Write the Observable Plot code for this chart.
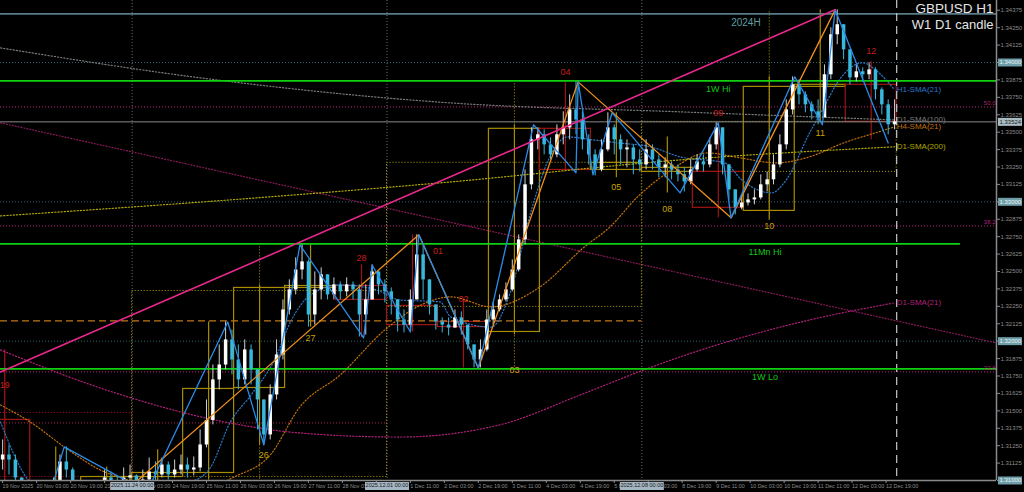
<!DOCTYPE html>
<html><head><meta charset="utf-8">
<script src="https://cdn.jsdelivr.net/npm/d3@7"></script>
<script src="https://cdn.jsdelivr.net/npm/@observablehq/plot@0.6"></script>
<style>html,body{margin:0;padding:0;background:#000;overflow:hidden}</style>
</head><body><div id="chart"></div>
<script>
// ---------- axes ----------
const xDomain = [-1, 468];
const yDomain = [1.31, 1.34445];
const yTicks = [1.31000,1.31125,1.31250,1.31375,1.31500,1.31625,1.31750,1.31875,1.32000,1.32125,1.32250,1.32375,1.32500,1.32625,1.32750,1.32875,1.33000,1.33125,1.33250,1.33375,1.33500,1.33625,1.33750,1.33875,1.34000,1.34125,1.34250,1.34375];
const xTickIdx = [0,16,32,48,64,80,96,112,128,144,160,176,192,208,224,240,256,272,288,304,320,336,352,368,384,400,416];
const xTickLabels = ["19 Nov 2025","20 Nov 03:00","20 Nov 19:00","21 Nov 11:00","24 Nov 03:00","24 Nov 19:00","25 Nov 11:00","26 Nov 03:00","26 Nov 19:00","27 Nov 11:00","28 Nov 03:00","","1 Dec 11:00","2 Dec 03:00","2 Dec 19:00","3 Dec 11:00","4 Dec 03:00","4 Dec 19:00","5 Dec 11:00","8 Dec 03:00","8 Dec 19:00","9 Dec 11:00","10 Dec 03:00","10 Dec 19:00","11 Dec 11:00","12 Dec 03:00","12 Dec 19:00"];
const weekSepIdx = [61, 181, 301];
const weekSepText = ["2025.11.24 00:00","2025.12.01 00:00","2025.12.08 00:00"];
const roundLevels = [1.34, 1.33, 1.32, 1.31];
const lastBarIdx = 421;
const lastPriceLine = 1.33574;
const lastPriceText = "1.33524";

// ---------- H1 price (one candle per 3 hours) ----------
const candleStep = 3;
const firstOpen = 1.31147;
const closes = [1.31183,1.31147,1.31018,1.30896,1.30860,1.30824,1.30789,1.30860,1.30967,1.31133,
 1.31075,1.30932,1.30860,1.30824,1.30860,1.30932,1.31018,1.30989,1.30975,1.31018,
 1.31033,1.30967,1.31004,1.31061,1.31040,1.31111,1.31040,1.31075,1.31111,1.31075,
 1.31090,1.31255,1.31431,1.31722,1.31829,1.32009,1.31865,1.31722,1.31937,1.31794,
 1.31578,1.31327,1.31614,1.31901,1.32224,1.32368,1.32511,1.32569,1.32188,1.32368,
 1.32476,1.32332,1.32404,1.32354,1.32404,1.32368,1.32188,1.32296,1.32497,1.32404,
 1.32354,1.32296,1.32152,1.32115,1.32296,1.32619,1.32440,1.32260,1.32138,1.32115,
 1.32094,1.32167,1.32115,1.31973,1.31865,1.31937,1.32152,1.32224,1.32296,1.32368,
 1.32511,1.32727,1.33122,1.33445,1.33481,1.33409,1.33337,1.33481,1.33531,1.33660,
 1.33588,1.33445,1.33337,1.33229,1.33373,1.33531,1.33445,1.33373,1.33387,1.33301,
 1.33265,1.33373,1.33301,1.33244,1.33265,1.33229,1.33194,1.33143,1.33229,1.33287,
 1.33265,1.33409,1.33531,1.33265,1.33086,1.32957,1.32992,1.33014,1.33028,1.33122,
 1.33158,1.33265,1.33409,1.33660,1.33840,1.33768,1.33696,1.33646,1.33603,1.33912,
 1.34199,1.34271,1.34091,1.33890,1.33933,1.33912,1.33947,1.33804,1.33696,1.33553,
 1.33574];
const highs = [1.31291,1.31255,1.31183,1.31004,1.30932,1.30896,1.30860,1.30917,1.31018,1.31183,
 1.31241,1.31090,1.30946,1.30896,1.30917,1.30967,1.31075,1.31061,1.31033,1.31090,
 1.31111,1.31040,1.31075,1.31161,1.31133,1.31161,1.31133,1.31147,1.31183,1.31161,
 1.31169,1.31363,1.31578,1.31829,1.31973,1.32138,1.32080,1.31973,1.32009,1.31973,
 1.31758,1.31578,1.31686,1.32009,1.32296,1.32440,1.32598,1.32691,1.32583,1.32497,
 1.32526,1.32440,1.32454,1.32425,1.32454,1.32425,1.32404,1.32404,1.32547,1.32497,
 1.32440,1.32382,1.32296,1.32224,1.32368,1.32763,1.32691,1.32368,1.32224,1.32167,
 1.32167,1.32224,1.32210,1.32080,1.31973,1.32009,1.32224,1.32282,1.32332,1.32418,
 1.32583,1.32763,1.33229,1.33531,1.33531,1.33517,1.33459,1.33553,1.33646,1.33768,
 1.33861,1.33646,1.33481,1.33373,1.33445,1.33639,1.33553,1.33481,1.33445,1.33409,
 1.33373,1.33445,1.33409,1.33337,1.33316,1.33287,1.33265,1.33244,1.33301,1.33337,
 1.33337,1.33459,1.33567,1.33531,1.33229,1.33086,1.33049,1.33057,1.33086,1.33194,
 1.33215,1.33337,1.33481,1.33732,1.33897,1.33876,1.33789,1.33718,1.33732,1.33983,
 1.34249,1.34378,1.34249,1.33962,1.33983,1.33962,1.33998,1.33962,1.33818,1.33732,
 1.33732];
const lows = [1.31075,1.31040,1.30967,1.30860,1.30824,1.30774,1.30753,1.30774,1.30860,1.30946,
 1.31018,1.30896,1.30824,1.30789,1.30803,1.30860,1.30917,1.30932,1.30917,1.30946,
 1.30967,1.30932,1.30932,1.30989,1.30989,1.31018,1.31004,1.31018,1.31040,1.31018,
 1.31033,1.31061,1.31234,1.31399,1.31650,1.31794,1.31758,1.31650,1.31686,1.31686,
 1.31363,1.31255,1.31291,1.31578,1.31865,1.32188,1.32332,1.32440,1.32101,1.32115,
 1.32296,1.32296,1.32296,1.32296,1.32318,1.32296,1.32030,1.32044,1.32296,1.32332,
 1.32274,1.32188,1.32066,1.32059,1.32066,1.32296,1.32296,1.32188,1.32080,1.32059,
 1.32038,1.32094,1.32044,1.31937,1.31808,1.31808,1.31923,1.32115,1.32210,1.32282,
 1.32354,1.32497,1.32691,1.33086,1.33373,1.33337,1.33301,1.33316,1.33409,1.33445,
 1.33481,1.33373,1.33265,1.33186,1.33215,1.33359,1.33337,1.33265,1.33244,1.33194,
 1.33215,1.33229,1.33229,1.33172,1.33172,1.33158,1.33143,1.33071,1.33122,1.33215,
 1.33215,1.33244,1.33373,1.33194,1.33014,1.32906,1.32942,1.32971,1.32978,1.33014,
 1.33071,1.33122,1.33244,1.33373,1.33624,1.33696,1.33639,1.33588,1.33553,1.33624,
 1.33876,1.34127,1.34019,1.33840,1.33861,1.33861,1.33876,1.33732,1.33624,1.33481,
 1.33517];

// ---------- D1 candles (boxes) ----------
const d1Start = [-11,13,37,61,85,109,133,157,181,205,229,253,277,301,325,349,373,397];
const d1Open  = [1.31435,1.30810,1.30860,1.31025,1.31054,1.31664,1.32382,1.32396,1.32253,1.32138,1.32066,1.33524,1.33229,1.33215,1.33215,1.32935,1.33825,1.33840];
const d1High  = [1.31937,1.31241,1.31097,1.31220,1.32138,1.32404,1.32691,1.32547,1.32763,1.32296,1.33553,1.33854,1.33639,1.33466,1.33567,1.33897,1.34378,1.34005];
const d1Low   = [1.30753,1.30753,1.30789,1.30917,1.31004,1.31255,1.32101,1.32023,1.32066,1.31808,1.32045,1.33215,1.33172,1.33064,1.32885,1.32870,1.33567,1.33445];
const d1Close = [1.30824,1.30860,1.31025,1.31054,1.31657,1.32382,1.32396,1.32296,1.32115,1.32101,1.33524,1.33229,1.33280,1.33244,1.32957,1.33825,1.33840,1.33574];
// day-number labels (empty = not shown on the chart)
const d1Label = ["19","","","","","26","27","28","01","02","03","04","05","08","09","10","11","12"];
const d1LabelIdx = [1,25,49,73,97,123,145,169,205,217,241,265,289,313,337,361,385,409];
const d1LabelPrice = [1.31686,1.30896,1.30896,1.30896,1.30917,1.31183,1.32023,1.32598,1.32648,1.32303,1.31794,1.33933,1.33107,1.32949,1.33639,1.32827,1.33495,1.34084];

// ---------- W1 candles (dotted boxes) ----------
const w1Start = [-59,61,181,301];
const w1End   = [61,181,301,421];
const w1Open  = [1.31485,1.31025,1.32246,1.33215];
const w1High  = [1.31937,1.32691,1.33861,1.34378];
const w1Low   = [1.30700,1.30753,1.31794,1.32870];
const w1Close = [1.31025,1.32360,1.33280,1.33574];

// ---------- zigzags & trend line ----------
const zzBlueIdx   = [20,29,68,106,123,140,170,174,192,196,224,250,270,271,278,287,319,337,343,373,386,392,417];
const zzBluePrice = [1.30788,1.31241,1.30918,1.32138,1.31255,1.32691,1.32023,1.32547,1.32066,1.32763,1.31808,1.33553,1.33208,1.33861,1.33194,1.33639,1.33064,1.33567,1.32885,1.33897,1.33553,1.34378,1.33423];
const zzOrangeIdx   = [61,196,224,271,343,392];
const zzOrangePrice = [1.30967,1.32763,1.31808,1.33861,1.32885,1.34378];
const trendIdx   = [-1,392];
const trendPrice = [1.31779,1.34378];
const slopeDotIdx   = [-1,468];
const slopeDotPrice = [1.33567,1.31987];

// ---------- moving averages ----------
const smaH1Idx   = [-1,12,27,46,70,91,98,107,117,128,136,145,159,176,187,206,211,230,239,249,257,266,278,290,305,319,340,348,362,369,380,386,394,405,411,420];
const smaH1Price = [1.31420,1.31004,1.30860,1.30896,1.30932,1.31004,1.31097,1.31413,1.31614,1.31865,1.32152,1.32332,1.32404,1.32368,1.32296,1.32282,1.32174,1.32101,1.32346,1.32942,1.33301,1.33466,1.33445,1.33423,1.33395,1.33323,1.33280,1.33158,1.33064,1.33158,1.33495,1.33660,1.33876,1.33998,1.33947,1.33804];
const smaH4Idx   = [-1,13,31,46,59,84,109,126,140,159,180,197,211,230,253,274,286,299,313,332,347,364,380,396,411,420];
const smaH4Price = [1.31542,1.31420,1.31219,1.31075,1.31004,1.30896,1.31025,1.31183,1.31528,1.31758,1.32081,1.32260,1.32318,1.32246,1.32389,1.32677,1.32820,1.33036,1.33208,1.33351,1.33316,1.33280,1.33323,1.33423,1.33495,1.33538];
const smaD200Idx   = [-1,107,211,319,420];
const smaD200Price = [1.32899,1.33014,1.33143,1.33301,1.33395];
const smaD100Idx   = [-1,93,211,319,420];
const smaD100Price = [1.34105,1.33890,1.33710,1.33646,1.33588];
const smaD21Idx   = [-1,46,107,140,187,234,272,302,319,376,420];
const smaD21Price = [1.31937,1.31664,1.31413,1.31341,1.31312,1.31399,1.31614,1.31794,1.31887,1.32138,1.32275];

// ---------- levels ----------
const fibLevels = [1.33682, 1.32827, 1.31779];
const fibText = ["50.0","38.2","23.6"];
const levelNames  = ["1W Hi","11Mn Hi","1W Lo"];
const levelValues = [1.33868, 1.32698, 1.31801];
const levelEnd    = [468, 451, 468];
const levelLabelIdx = [337, 359, 359];
const yearHigh = 1.34349;
const yearHighName = "2024H";
const yearHighLabelIdx = 350;
const orangeDashLevel = 1.32145, orangeDashEnd = 301;
const redDotLevel = 1.31413, redDotEnd = 181;

// ---------- build ----------
const candles = closes.map((c, i) => ({t: i * candleStep, o: i ? closes[i-1] : firstOpen, h: highs[i], l: lows[i], c}));
const d1 = d1Start.map((s, i) => ({s, e: s + 24, m: s + 12, o: d1Open[i], h: d1High[i], l: d1Low[i], c: d1Close[i]}));
const w1 = w1Start.map((s, i) => ({s, e: w1End[i], m: (s + w1End[i]) / 2, o: w1Open[i], h: w1High[i], l: w1Low[i], c: w1Close[i]}));
const d1Labels = d1Label.map((t, i) => ({t, x: d1LabelIdx[i], y: d1LabelPrice[i], bull: d1Close[i] >= d1Open[i]})).filter(d => d.t !== "");
const pts = (xs, ys) => xs.map((x, i) => ({x, y: ys[i]}));
const xLabelMap = new Map(xTickIdx.map((d, i) => [d, xTickLabels[i]]));
const smaSeries = [
  {name: "H1-SMA(21)", color: "#2a78c8", idx: smaH1Idx, price: smaH1Price},
  {name: "D1-SMA(100)", color: "#7a7a7a", idx: smaD100Idx, price: smaD100Price},
  {name: "H4-SMA(21)", color: "#c0700a", idx: smaH4Idx, price: smaH4Price},
  {name: "D1-SMA(200)", color: "#b0a800", idx: smaD200Idx, price: smaD200Price},
  {name: "D1-SMA(21)", color: "#b0207a", idx: smaD21Idx, price: smaD21Price}
];
const BULL = "#a88c00", BEAR = "#a01414";
const font = "'Liberation Sans', Arial, sans-serif";

const marks = [
  Plot.ruleY(roundLevels, {y: d => d, stroke: "#2e6474", strokeDasharray: "1,2", strokeWidth: 1}),
  Plot.ruleY(fibLevels, {y: d => d, stroke: "#9a1a66", strokeDasharray: "1,2", strokeWidth: 1.2}),
  Plot.line(pts(slopeDotIdx, slopeDotPrice), {x: "x", y: "y", stroke: "#8e1a5c", strokeDasharray: "1,2", strokeWidth: 1.2, clip: true}),
  Plot.ruleX(weekSepIdx, {x: d => d, stroke: "#6a6a6a", strokeDasharray: "1,2"}),
  Plot.ruleX(w1, {x: "m", y1: "l", y2: "h", stroke: d => d.c >= d.o ? "#b8a000" : "#b01030", strokeDasharray: "1,2", clip: true}),
  Plot.rect(w1, {x1: "s", x2: "e", y1: "o", y2: "c", fill: "none", stroke: d => d.c >= d.o ? "#b8a000" : "#b01030", strokeDasharray: "1,2", clip: true}),
  Plot.ruleX(d1, {x: "m", y1: "l", y2: "h", stroke: d => d.c >= d.o ? BULL : BEAR, strokeWidth: 1.2, clip: true}),
  Plot.rect(d1, {x1: "s", x2: "e", y1: "o", y2: "c", fill: "none", stroke: d => d.c >= d.o ? BULL : BEAR, strokeWidth: 1.2, clip: true}),
  Plot.ruleY([orangeDashLevel], {y: d => d, x1: xDomain[0], x2: orangeDashEnd, stroke: "#c07818", strokeDasharray: "7,4", strokeWidth: 1.2, clip: true}),
  Plot.ruleY([redDotLevel], {y: d => d, x1: xDomain[0], x2: redDotEnd, stroke: "#8a1a40", strokeDasharray: "1,2", strokeWidth: 1.2, clip: true}),
  ...smaSeries.map(s => Plot.line(pts(s.idx, s.price), {x: "x", y: "y", stroke: s.color, strokeDasharray: "1.2,2", strokeWidth: 1.2, curve: "monotone-x", clip: true})),
  Plot.ruleY([yearHigh], {y: d => d, stroke: "#5a7c88", strokeWidth: 1.6}),
  Plot.ruleY([lastPriceLine], {y: d => d, stroke: "#8a8a8a", strokeWidth: 1}),
  Plot.ruleX([lastBarIdx], {x: d => d, stroke: "#c8c8c8", strokeDasharray: "8,5", strokeWidth: 1.2}),
  Plot.ruleY(levelValues, {y: d => d, x1: xDomain[0], x2: (d, i) => levelEnd[i], stroke: "#10d010", strokeWidth: 1.6, clip: true}),
  Plot.ruleX(candles, {x: "t", y1: d => Math.min(d.l, d.o, d.c), y2: d => Math.max(d.h, d.o, d.c), stroke: d => d.c >= d.o ? "#cfcfcf" : "#38b8dc", strokeWidth: 1, clip: true}),
  Plot.ruleX(candles, {x: "t", y1: "o", y2: "c", stroke: d => d.c >= d.o ? "#ffffff" : "#38b8dc", strokeWidth: 3.5, clip: true}),
  Plot.line(pts(zzOrangeIdx, zzOrangePrice), {x: "x", y: "y", stroke: "#f0901c", strokeWidth: 1.3, clip: true}),
  Plot.line(pts(zzBlueIdx, zzBluePrice), {x: "x", y: "y", stroke: "#2a8ce8", strokeWidth: 1.3, clip: true}),
  Plot.line(pts(trendIdx, trendPrice), {x: "x", y: "y", stroke: "#e8288c", strokeWidth: 1.6, clip: true}),
  Plot.text(d1Labels, {x: "x", y: "y", text: "t", fill: d => d.bull ? "#c8a400" : "#c81e1e", fontSize: 9, fontFamily: font, clip: true}),
  Plot.text(levelNames, {x: (d, i) => levelLabelIdx[i], y: (d, i) => levelValues[i], text: d => d, fill: "#14c814", fontSize: 9, fontFamily: font, lineAnchor: "top", dy: 5}),
  Plot.text([yearHighName], {x: yearHighLabelIdx, y: yearHigh, text: d => d, fill: "#5f9ea0", fontSize: 10, fontFamily: font, lineAnchor: "top", dy: 5}),
  Plot.text(smaSeries, {x: d => d.idx[d.idx.length - 1] + 1, y: d => d.price[d.price.length - 1], text: "name", fill: "color", fontSize: 8, fontFamily: font, textAnchor: "start"}),
  Plot.text(fibLevels, {y: d => d, text: (d, i) => fibText[i], frameAnchor: "right", textAnchor: "end", dx: -1, dy: -4, fill: "#b0207a", fontSize: 6, fontFamily: font}),
  Plot.text(["GBPUSD H1"], {frameAnchor: "top-right", textAnchor: "end", lineAnchor: "top", dx: -3, dy: 3, fill: "#e6e6e6", fontSize: 13.5, fontFamily: font}),
  Plot.text(["W1 D1 candle"], {frameAnchor: "top-right", textAnchor: "end", lineAnchor: "top", dx: -3, dy: 19, fill: "#e6e6e6", fontSize: 13, fontFamily: font}),
  Plot.ruleX([xDomain[1]], {x: d => d, stroke: "#8a8a8a", strokeWidth: 1.5}),
  Plot.ruleY([yDomain[0]], {y: d => d, stroke: "#8a8a8a", strokeWidth: 1.5}),
  Plot.axisY(yTicks, {anchor: "right", tickSize: 3, tickPadding: 1, tickFormat: d => d.toFixed(5), fontSize: 6, fontFamily: font}),
  Plot.axisX(xTickIdx, {anchor: "bottom", tickSize: 3, tickPadding: 1, tickFormat: d => xLabelMap.get(d), textAnchor: "start", fontSize: 5.4, fontFamily: font}),
  Plot.ruleY(roundLevels, {y: d => d, stroke: "#6f9ea8", strokeWidth: 8, insetLeft: 998, insetRight: -26}),
  Plot.text(roundLevels, {y: d => d, text: d => d.toFixed(5), frameAnchor: "right", textAnchor: "start", dx: 3, fill: "#e8f4f6", fontSize: 6, fontFamily: font}),
  Plot.ruleY([lastPriceLine], {y: d => d, stroke: "#a9bcc4", strokeWidth: 8, insetLeft: 998, insetRight: -26}),
  Plot.text([lastPriceText], {y: lastPriceLine, text: d => d, frameAnchor: "right", textAnchor: "start", dx: 3, fill: "#1a1a1a", fontSize: 6, fontFamily: font}),
  Plot.ruleX(weekSepIdx, {x: d => d, stroke: "#a4b4c2", strokeWidth: 44, insetTop: 482, insetBottom: -10}),
  Plot.text(weekSepIdx, {x: d => d, text: (d, i) => weekSepText[i], frameAnchor: "bottom", dy: 6, fill: "#1a1a1a", fontSize: 5.5, fontFamily: font})
];

const chart = Plot.plot({
  width: 1024, height: 492,
  marginLeft: 0, marginRight: 28, marginTop: 0, marginBottom: 12,
  x: {domain: xDomain, axis: null},
  y: {domain: yDomain, axis: null},
  style: {background: "#000", color: "#8c8c8c", fontFamily: font, overflow: "visible"},
  marks
});
document.getElementById("chart").appendChild(chart);
</script></body></html>
